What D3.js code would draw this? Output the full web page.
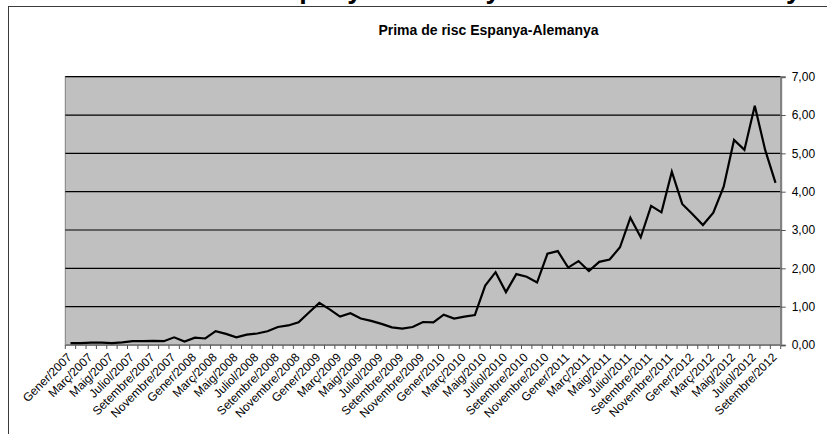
<!DOCTYPE html>
<html>
<head>
<meta charset="utf-8">
<script src="https://cdn.jsdelivr.net/npm/d3@7"></script>
<style>
  html, body { margin: 0; padding: 0; background: #fff; }
  svg { display: block; font-family: "Liberation Sans", Arial, sans-serif; }
</style>
</head>
<body>
<svg id="chart" width="827" height="434"></svg>
<script>
// ---- data ----
const categories = [
  "Gener/2007","Febrer/2007","Març/2007","Abril/2007","Maig/2007","Juny/2007","Juliol/2007","Agost/2007","Setembre/2007","Octubre/2007","Novembre/2007","Desembre/2007",
  "Gener/2008","Febrer/2008","Març/2008","Abril/2008","Maig/2008","Juny/2008","Juliol/2008","Agost/2008","Setembre/2008","Octubre/2008","Novembre/2008","Desembre/2008",
  "Gener/2009","Febrer/2009","Març/2009","Abril/2009","Maig/2009","Juny/2009","Juliol/2009","Agost/2009","Setembre/2009","Octubre/2009","Novembre/2009","Desembre/2009",
  "Gener/2010","Febrer/2010","Març/2010","Abril/2010","Maig/2010","Juny/2010","Juliol/2010","Agost/2010","Setembre/2010","Octubre/2010","Novembre/2010","Desembre/2010",
  "Gener/2011","Febrer/2011","Març/2011","Abril/2011","Maig/2011","Juny/2011","Juliol/2011","Agost/2011","Setembre/2011","Octubre/2011","Novembre/2011","Desembre/2011",
  "Gener/2012","Febrer/2012","Març/2012","Abril/2012","Maig/2012","Juny/2012","Juliol/2012","Agost/2012","Setembre/2012"
];
const primaRisc = [
  0.05, 0.05, 0.06, 0.06, 0.05, 0.07, 0.10, 0.10, 0.11, 0.10,
  0.20, 0.09, 0.19, 0.17, 0.36, 0.29, 0.20, 0.27, 0.30, 0.36,
  0.47, 0.51, 0.59, 0.85, 1.10, 0.93, 0.74, 0.83, 0.69, 0.63,
  0.55, 0.46, 0.43, 0.47, 0.60, 0.59, 0.79, 0.69, 0.74, 0.78,
  1.55, 1.90, 1.38, 1.85, 1.78, 1.63, 2.38, 2.45, 2.02, 2.19,
  1.93, 2.17, 2.23, 2.55, 3.32, 2.81, 3.63, 3.46, 4.52, 3.68,
  3.41, 3.13, 3.45, 4.13, 5.35, 5.09, 6.24, 5.09, 4.23
];
const yTicks = [0, 1, 2, 3, 4, 5, 6, 7];
const pageTitle = "Prima de risc del bo espanyol a 10 anys en relació a l'alemany";
const chartTitle = "Prima de risc Espanya-Alemanya";

// ---- layout ----
const svg = d3.select("#chart");
const plot = { left: 65.3, right: 780.7, top: 76.7, bottom: 345 };

// outer chart border (extends beyond the visible area)
svg.append("rect")
  .attr("x", 8.5).attr("y", 6.5).attr("width", 1000).attr("height", 600)
  .attr("fill", "#fff").attr("stroke", "#3a3a3a").attr("stroke-width", 1);

// big page title, mostly above the visible area
svg.append("text")
  .attr("x", 801).attr("y", -2)
  .attr("text-anchor", "end")
  .attr("font-size", 27).attr("font-weight", "bold")
  .attr("fill", "#000")
  .text(pageTitle);

// chart title
svg.append("text")
  .attr("x", 488.5).attr("y", 35)
  .attr("text-anchor", "middle")
  .attr("font-size", 14).attr("font-weight", "bold")
  .attr("fill", "#000")
  .text(chartTitle);

const x = d3.scaleBand().domain(categories).range([plot.left, plot.right]).padding(0);
const y = d3.scaleLinear().domain([0, 7]).range([plot.bottom, plot.top]);
const cx = d => x(d) + x.bandwidth() / 2;

// plot area
svg.append("rect")
  .attr("x", plot.left).attr("y", plot.top)
  .attr("width", plot.right - plot.left).attr("height", plot.bottom - plot.top)
  .attr("fill", "#c0c0c0").attr("stroke", "#808080").attr("stroke-width", 1);

// gridlines
svg.append("g").selectAll("line")
  .data(yTicks.filter(t => t > 0))
  .join("line")
  .attr("x1", plot.left).attr("x2", plot.right)
  .attr("y1", d => y(d)).attr("y2", d => y(d))
  .attr("stroke", "#000").attr("stroke-width", 1.2);

// x axis: ticks at category boundaries
const xAxisG = svg.append("g");
xAxisG.append("line")
  .attr("x1", plot.left).attr("x2", plot.right)
  .attr("y1", y(0)).attr("y2", y(0))
  .attr("stroke", "#808080").attr("stroke-width", 2);
const boundaries = d3.range(categories.length + 1).map(i => plot.left + i * x.step());
xAxisG.selectAll("line.tick")
  .data(boundaries)
  .join("line").attr("class", "tick")
  .attr("x1", d => d).attr("x2", d => d)
  .attr("y1", y(0)).attr("y2", y(0) + 4)
  .attr("stroke", "#555").attr("stroke-width", 1);
xAxisG.selectAll("text")
  .data(categories.filter((c, i) => i % 2 === 0))
  .join("text")
  .attr("transform", d => `translate(${cx(d) + 2},${y(0) + 13}) rotate(-45)`)
  .attr("text-anchor", "end")
  .attr("font-size", 12)
  .attr("fill", "#000")
  .text(d => d);

// y axis on the right
const yAxis = d3.axisRight(y)
  .tickValues(yTicks)
  .tickSize(5)
  .tickPadding(6)
  .tickFormat(d => d3.format(".2f")(d).replace(".", ","));
const yAxisG = svg.append("g")
  .attr("transform", `translate(${plot.right},0)`)
  .call(yAxis);
yAxisG.select(".domain").attr("stroke", "#808080").attr("stroke-width", 2);
yAxisG.selectAll(".tick line").attr("stroke", "#555");
yAxisG.selectAll(".tick text")
  .attr("font-size", 12)
  .attr("font-family", "'Liberation Sans', Arial, sans-serif")
  .attr("fill", "#000");

// series line
const line = d3.line()
  .x((d, i) => cx(categories[i]))
  .y(d => y(d));
svg.append("path")
  .datum(primaRisc)
  .attr("d", line)
  .attr("fill", "none")
  .attr("stroke", "#000")
  .attr("stroke-width", 2.2)
  .attr("stroke-linejoin", "miter");
</script>
</body>
</html>
